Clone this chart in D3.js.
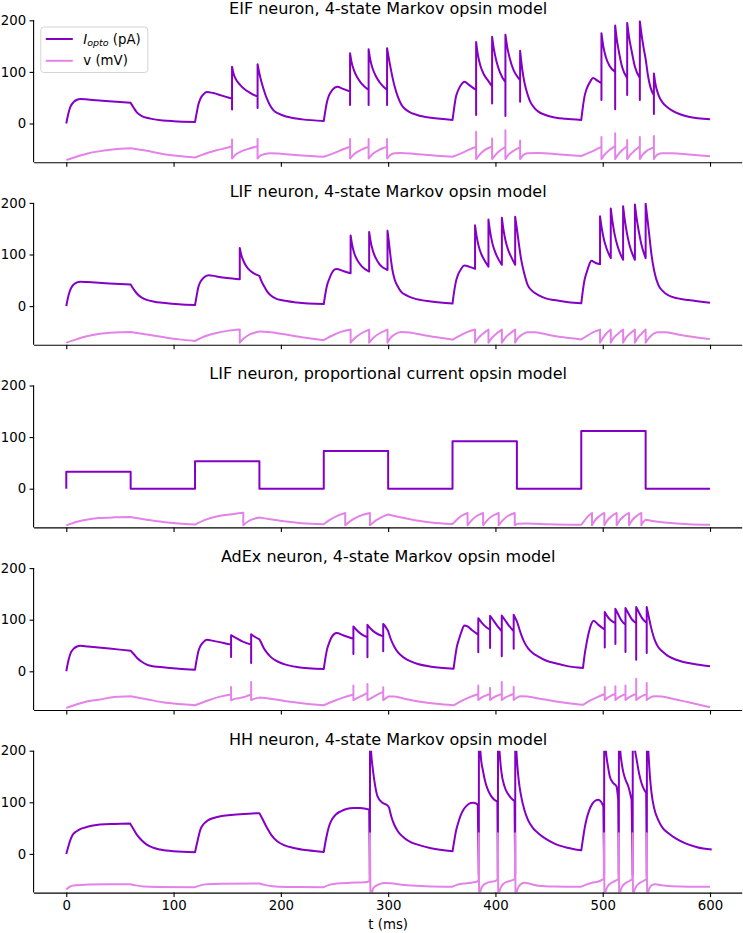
<!DOCTYPE html>
<html><head><meta charset="utf-8">
<script src="https://cdn.jsdelivr.net/npm/d3@7"></script>
<style>
html,body{margin:0;padding:0;background:#fff;}
svg{display:block;font-family:"DejaVu Sans",sans-serif;}
</style></head>
<body><svg id="chart" width="743" height="933"></svg>
<script>
// ---------- DATA (time in ms, values in pA / mV) ----------
const titles = [
  "EIF neuron, 4-state Markov opsin model",
  "LIF neuron, 4-state Markov opsin model",
  "LIF neuron, proportional current opsin model",
  "AdEx neuron, 4-state Markov opsin model",
  "HH neuron, 4-state Markov opsin model"
];
const xTicks = [0,100,200,300,400,500,600];
const yTicks = [0,100,200];
const legendLabels = ["I_opto (pA)", "v (mV)"];

// each series: list of smooth pieces; pieces are joined by straight (vertical) lines
const eifIopto = [
 [[0,0],[2,20],[4,33],[7,42],[10,46],[13,47.5],[20,46.5],[40,43],[60,40]],
 [[60,40],[63,30],[66,21],[70,15],[75,11],[81,8.5],[90,6],[100,4.5],[120,3]],
 [[120,3],[121.5,20],[123,36],[125,48],[128,57],[131,61],[137,59],[145,54],[154.5,48]],
 [[154.5,27]],
 [[154.5,110],[156,96],[158,86],[162,75],[166,67],[171,60],[178.3,52]],
 [[178.3,30]],
 [[178.3,115],[180,97],[182,80],[184,66],[187,48],[190,35],[193,26],[198,19],[206,13],[220,8],[240,5]],
 [[240,5],[241.5,25],[243,42],[245,55],[248,65],[252.7,71],[258,67],[264.5,62]],
 [[264.5,36]],
 [[264.5,136],[266,118],[268,104],[271,90],[275,78],[281.8,65]],
 [[281.8,36]],
 [[281.8,144],[283.3,124],[285.3,108],[288,94],[292,80],[299,65]],
 [[299,36]],
 [[299,146],[300.5,128],[303,100],[306,72],[309,52],[312,38],[315,29.5],[320,22],[327,16.5],[340,11],[360,7]],
 [[360,7],[361.5,30],[363,50],[365,63],[368,75],[371,81],[376,74],[382,65]],
 [[382,16.5]],
 [[382,158],[383.5,135],[386,112],[389,96],[392.5,85],[396.9,72]],
 [[396.9,39]],
 [[396.9,168],[398.5,145],[401,120],[404,100],[409.3,80]],
 [[409.3,14.5]],
 [[409.3,172],[411,148],[413.5,125],[417,103],[420,92],[423,84]],
 [[423,42]],
 [[423,141],[425,105],[427,80],[430,56],[433,40],[436,31],[440,23],[446,17],[452,13],[465,9],[480,7]],
 [[480,7],[481.5,32],[483,52],[485,67],[488,80],[491,88],[495,83],[498.8,78]],
 [[498.8,45.6]],
 [[498.8,175],[500.5,150],[503,128],[506,113],[511.6,100]],
 [[511.6,27.5]],
 [[511.6,190],[513,165],[515,140],[518,110],[522.8,88]],
 [[522.8,55]],
 [[522.8,195],[524.5,168],[527,140],[530,110],[534.6,88]],
 [[534.6,45.6]],
 [[534.6,198],[536,175],[538,148],[540,125],[542,95],[544.5,70],[547.7,55]],
 [[547.7,18.5]],
 [[547.7,97],[549,78],[552,55],[556,40],[560,32],[564,26],[572,18],[580,13],[600,8]]
];
const eifV = [
 [[0,-71],[10,-64],[20,-58],[30,-54],[45,-50],[60,-48]],
 [[60,-48],[75,-53],[90,-59],[105,-63],[120,-66]],
 [[120,-66],[130,-58],[140,-52],[148,-48],[154.5,-44]],
 [[154.5,-31]],
 [[154.5,-68],[158,-60],[163,-54],[170,-49],[178.3,-44]],
 [[178.3,-30]],
 [[178.3,-68],[181,-62],[185,-59],[190,-57.5],[200,-58.5],[220,-62],[240,-64.5]],
 [[240,-64.5],[250,-57],[258,-50],[264.5,-45]],
 [[264.5,-30]],
 [[264.5,-68],[268,-60],[273,-53],[278,-48],[281.8,-45]],
 [[281.8,-30]],
 [[281.8,-68],[285,-60],[290,-53],[295,-48],[299,-45]],
 [[299,-30]],
 [[299,-68],[302,-61],[306,-57.5],[312,-57],[325,-59],[345,-62.5],[360,-64.5]],
 [[360,-64.5],[368,-58],[376,-50],[382,-45]],
 [[382,-16]],
 [[382,-69],[385,-61],[389,-53],[393,-48],[396.9,-45]],
 [[396.9,-29]],
 [[396.9,-69],[400,-61],[404,-53],[409.3,-45]],
 [[409.3,-13]],
 [[409.3,-69],[412,-61],[416,-54],[420,-49],[423,-46]],
 [[423,-33]],
 [[423,-69],[426,-61],[430,-57.5],[440,-57],[460,-60],[480,-63]],
 [[480,-63],[488,-56],[494,-50],[498.8,-45]],
 [[498.8,-26]],
 [[498.8,-69],[502,-60],[506,-52],[511.6,-44]],
 [[511.6,-19]],
 [[511.6,-69],[514.5,-60],[518,-52],[522.8,-44]],
 [[522.8,-32]],
 [[522.8,-69],[526,-60],[530,-52],[534.6,-44]],
 [[534.6,-26]],
 [[534.6,-69],[537.5,-60],[541,-53],[544.5,-49],[547.7,-46]],
 [[547.7,-24]],
 [[547.7,-69],[550.5,-61],[555,-57.5],[565,-57.5],[580,-60],[600,-63.5]]
];

const lifIopto = [
 [[0,0],[2,20],[4,33],[7,42],[10,46],[13,47.4],[20,46.5],[40,44],[60,42]],
 [[60,42],[63,32],[66,24],[70,17],[75,12],[82,8.5],[90,6.5],[105,3.5],[120,2]],
 [[120,2],[121.5,20],[123,36],[125,47],[128,55],[132.7,60],[140,57.5],[150,54.5],[161.7,52]],
 [[161.7,112.5],[163,100],[165.5,86],[168.5,75],[172,67.5],[176,62],[180,58.5]],
 [[180,58.5],[182,48],[184.5,38],[187,29],[191,20],[196,14],[200,11.7],[215,7],[240,4]],
 [[240,4],[241.5,24],[243,40],[245,52],[247,62],[249.5,70],[252,72],[258,68],[265,63.7]],
 [[265,137],[266.5,118],[268.5,102],[271,90],[275,78],[282.3,67]],
 [[282.3,143.7],[283.8,124],[285.8,107],[288.5,93],[292,81],[299.4,70]],
 [[299.4,146],[300.5,128],[302,100],[304,70],[306,52],[309,38],[312,28],[318,20],[324,15],[340,9],[360,5]],
 [[360,5],[361.5,28],[363,46],[365,60],[368,72],[371,78.5],[376,76],[381,72]],
 [[381,156.5],[382.5,135],[384.5,115],[387,100],[390,88],[393.5,76.6]],
 [[393.5,167.6],[395,145],[397,123],[399.5,106],[402.5,92],[406,80]],
 [[406,171],[407.5,148],[409.5,126],[412,108],[415,94],[418.4,80]],
 [[418.4,173],[420,150],[422,118],[424,90],[427,62],[430,41],[434,30],[440,21.4],[447,15],[455,11.7],[468,7.5],[480,5.3]],
 [[480,5.3],[481.5,30],[483,50],[485,65],[487,78],[489.4,87.7],[493,84],[497.5,81]],
 [[497.5,174],[499,152],[501,130],[503.5,112],[507.5,93]],
 [[507.5,189],[509,165],[511,140],[514,115],[519,89.7]],
 [[519,193.6],[520.5,168],[522.5,142],[525,118],[530,89.7]],
 [[530,197],[531.5,172],[533.5,146],[536,120],[540,93]],
 [[540,198.5],[541.5,172],[543,145],[545.5,99],[548,68],[551.8,41],[556,29],[561,21],[570,15],[580,11.7],[600,6.5]]
];
const lifV = [
 [[0,-70.8],[10,-64],[20,-58],[30,-54],[45,-51],[60,-50]],
 [[60,-50],[75,-55],[90,-60],[105,-64.5],[120,-67.5]],
 [[120,-67.5],[130,-58],[140,-52],[150,-48],[161.7,-45.5]],
 [[161.7,-70.8],[166,-62],[171,-55],[176,-51],[181,-49],[190,-50.5],[210,-57],[225,-62],[240,-66]],
 [[240,-66],[248,-57],[256,-50],[265,-45.5]],
 [[265,-70.8],[269,-62],[274,-54],[282.3,-45.5]],
 [[282.3,-70.8],[286,-62],[291,-54],[299.4,-45.5]],
 [[299.4,-70.8],[302,-62],[306,-55],[312,-50],[320,-51],[335,-57],[350,-62],[360,-65]],
 [[360,-65],[366,-58],[373,-51],[381,-45.5]],
 [[381,-70.8],[384,-62],[388,-54],[393.5,-45.5]],
 [[393.5,-70.8],[396.5,-62],[400.5,-54],[406,-45.5]],
 [[406,-70.8],[409,-62],[413,-54],[418.4,-45.5]],
 [[418.4,-70.8],[421,-62],[425,-55],[430,-50.5],[437,-50.5],[450,-56],[465,-61],[480,-64.5]],
 [[480,-64.5],[485,-58],[491,-51],[497.5,-45.5]],
 [[497.5,-70.8],[500,-62],[503,-54],[507.5,-45.5]],
 [[507.5,-70.8],[510,-62],[514,-54],[519,-45.5]],
 [[519,-70.8],[521.5,-62],[525,-54],[530,-45.5]],
 [[530,-70.8],[532.5,-62],[536,-54],[540,-45.5]],
 [[540,-70.8],[543,-62],[547,-54],[551,-50.5],[558,-50.5],[570,-55],[585,-60],[600,-64]]
];

const propIopto = [
 [[0,0]],[[0,33],[60,33]],[[60,0],[120,0]],
 [[120,53],[180,53]],[[180,0],[240,0]],
 [[240,73],[300,73]],[[300,0],[360,0]],
 [[360,92],[420,92]],[[420,0],[480,0]],
 [[480,112],[540,112]],[[540,0],[600,0]]
];
const propV = [
 [[0,-71],[10,-64],[20,-59.5],[30,-57],[45,-55.5],[60,-55]],
 [[60,-55],[75,-60],[90,-64.5],[105,-67.5],[120,-69.5]],
 [[120,-69.5],[130,-60],[140,-54],[150,-50.5],[165,-46.5]],
 [[165,-71],[169,-64],[174,-59],[180,-56]],
 [[180,-56],[190,-59],[205,-63.5],[220,-67],[240,-69]],
 [[240,-69],[246,-60],[252,-53],[260,-47]],
 [[260,-71],[266,-61],[273,-53],[283,-47]],
 [[283,-71],[289,-61],[295,-54],[300,-50]],
 [[300,-50],[310,-55],[325,-61],[340,-65.5],[360,-68.5]],
 [[360,-68.5],[364,-60],[368,-53],[374,-47]],
 [[374,-71],[378,-61],[382.5,-53],[388.5,-47]],
 [[388.5,-71],[392.5,-61],[397,-53],[403,-47]],
 [[403,-71],[407,-61],[411.5,-53],[418,-47]],
 [[418,-71],[421,-68],[428,-67.5],[450,-69],[480,-70]],
 [[480,-70],[483,-62],[486,-54],[490,-47]],
 [[490,-71],[493,-61],[497,-53],[501.5,-47]],
 [[501.5,-71],[504.5,-61],[508.5,-53],[513,-47]],
 [[513,-71],[516,-61],[520,-53],[524.5,-47]],
 [[524.5,-71],[527.5,-61],[531.5,-53],[536,-47]],
 [[536,-71],[538,-64],[540,-60]],
 [[540,-60],[545,-62],[560,-66],[580,-69],[600,-70]]
];

const adexIopto = [
 [[0,0],[2,21],[4,35],[7,44],[10,48],[13,49.5],[20,48],[40,44],[60,40]],
 [[60,40],[63,33],[66,25.8],[70,19],[75,13],[82,9.5],[90.6,7.7],[105,5],[120,3.2]],
 [[120,3.2],[121.5,22],[123,38],[125,49],[128,57],[131,61],[138,58.5],[146.7,55],[153.6,51.6]],
 [[153.6,27.7]],
 [[153.6,70],[158,65],[164,58],[172.3,51.6]],
 [[172.3,16]],
 [[172.3,72],[176,66.5],[180,62]],
 [[180,62],[182,54],[184,45],[187,36],[190,29],[195,21],[203,14],[215,8.5],[240,4.5]],
 [[240,4.5],[241.5,25],[243,42],[245,55],[247,65],[249.6,72],[252,74],[258,70],[267.6,63]],
 [[267.6,33.5]],
 [[267.6,87],[271,79],[275,72],[280.7,66]],
 [[280.7,27]],
 [[280.7,90],[284,82],[288,75],[295.4,67.7]],
 [[295.4,38.7]],
 [[295.4,91.6],[297,88],[300,78]],
 [[300,78],[302,65],[305.6,48],[309,37],[315,26],[320,20],[327.6,14],[340,9],[361,5]],
 [[361,5],[362.5,28],[364,47],[366,62],[368.5,78],[371,89],[374,87],[378,80],[384,71]],
 [[384,36.8]],
 [[384,103],[387,95],[390,88],[395,80.6]],
 [[395,45]],
 [[395,107.7],[398,99],[401,90],[405.9,77.4]],
 [[405.9,29]],
 [[405.9,108],[409,99],[412,90],[417,77.4]],
 [[417,43.9]],
 [[417,109.7],[419,101],[420,97]],
 [[420,97],[422,84],[424,71],[427,56],[430.3,45],[435,35],[439.6,29],[447,21],[455,16],[467,10],[481.6,6.5]],
 [[481.6,6.5],[483,30],[485,55],[487,75],[489.4,92],[491.5,98],[496,90],[501.9,80.6]],
 [[501.9,46]],
 [[501.9,115],[504.5,106],[507.5,99],[511.8,93.5]],
 [[511.8,53]],
 [[511.8,121],[514.5,110],[517,100],[521.2,90]],
 [[521.2,37.4]],
 [[521.2,122.6],[524,112],[527,101],[531.2,93.5]],
 [[531.2,22.6]],
 [[531.2,124.5],[534,113],[537,102],[541,93.5]],
 [[541,35.5]],
 [[541,124.5],[543,105],[544.5,90],[547,70],[549,58],[552,46],[555.4,38.7],[560,31],[564.5,25.8],[572,20],[580,16],[590,12.5],[600,9.7]]
];
const adexV = [
 [[0,-71],[10,-64],[20,-58],[30,-55],[45,-50],[60,-48.4]],
 [[60,-48.4],[75,-54],[90,-60],[105,-63.5],[120,-65.8]],
 [[120,-65.8],[130,-58],[140,-51],[153.6,-45]],
 [[153.6,-30.3]],
 [[153.6,-56],[158,-53],[162,-51.5],[167,-49],[172.3,-45]],
 [[172.3,-20.6]],
 [[172.3,-56],[176,-53],[180,-51]],
 [[180,-51],[190,-53],[205,-58],[220,-62],[240,-65.8]],
 [[240,-65.8],[250,-57],[258,-51],[267.6,-45]],
 [[267.6,-27.7]],
 [[267.6,-56],[272,-51],[276,-47],[280.7,-42]],
 [[280.7,-24.5]],
 [[280.7,-56],[285,-51],[290,-45],[295.4,-40]],
 [[295.4,-31]],
 [[295.4,-56],[298,-52],[300,-49]],
 [[300,-49],[305,-49],[315,-53],[330,-59],[345,-63],[361,-66]],
 [[361,-66],[368,-58],[375,-51],[384,-44]],
 [[384,-27.7]],
 [[384,-55.5],[387,-51],[391,-47],[395,-44]],
 [[395,-32]],
 [[395,-55.5],[398,-51],[402,-47],[405.9,-44]],
 [[405.9,-20.6]],
 [[405.9,-55.5],[409,-51],[413,-47],[417,-44]],
 [[417,-30.3]],
 [[417,-55.5],[420,-51],[424,-48.5],[430,-49],[440,-52.5],[455,-58],[470,-62.5],[481.6,-65]],
 [[481.6,-65],[488,-57],[495,-50],[501.9,-44]],
 [[501.9,-30.3]],
 [[501.9,-55.5],[504.5,-51],[508,-47],[511.8,-44]],
 [[511.8,-29]],
 [[511.8,-55.5],[514.5,-51],[518,-47],[521.2,-44]],
 [[521.2,-27.7]],
 [[521.2,-55.5],[524,-51],[527.5,-47],[531.2,-44]],
 [[531.2,-14.2]],
 [[531.2,-55.5],[534,-51],[537.5,-47],[541,-44]],
 [[541,-22.6]],
 [[541,-55.5],[544,-51],[549,-48.5],[555,-49],[565,-53],[580,-60],[600,-69.5]]
];

const hhIopto = [
 [[0,0],[2,15],[4,28],[6,37],[9.7,44],[14,49],[19,52],[25,55],[31.5,56.8],[45,58],[59.5,58.7]],
 [[59.5,58.7],[62,50],[65.7,37.4],[70,27],[75,18],[81,12],[87.5,8.4],[100,5],[120,3.2]],
 [[120,3.2],[122,22],[125,47],[128,58],[132,65],[137.4,69.7],[145,73.5],[156,76],[170,78],[180,79]],
 [[180,79],[183,67],[187.2,50],[191,37],[196.6,24.5],[203,17],[212,11.6],[225,7],[240,3.9]],
 [[240,3.9],[242,28],[244.9,53.5],[248,68],[251.5,77],[255.8,82.6],[261,87],[268,89],[274,89],[278,88],[282.3,86]],
 [[283,-40]],
 [[283.1,240],[284.2,195],[285.5,168],[287,144],[290,112],[294.7,99],[299.4,94],[301,89]],
 [[301,89],[303,72],[305.6,57],[309,44],[315,31],[321,23],[327.4,18],[340,11],[360,5]],
 [[360,5],[361.5,24],[363,42],[365,58],[367.5,74],[370,85],[373,93],[377,98.5],[380,99],[383.5,95.5]],
 [[384.5,-40]],
 [[384.6,250],[385.5,215],[386.5,185],[388.2,163],[390.5,140],[392.9,124.5],[396,112],[399,105],[401.8,102]],
 [[402.3,-40]],
 [[402.4,250],[403.3,215],[404.3,185],[405.3,163],[408.4,131],[411.5,117],[414.7,108],[417.8,102]],
 [[418.4,-40]],
 [[418.5,250],[419.4,205],[421,157],[422.5,130],[424,111.6],[427,85],[430.3,66],[435,50],[439.6,40.6],[447,29],[455,20],[467,12],[480,7]],
 [[480,7],[481.5,28],[483,48],[485,68],[487.5,85],[490,96],[493,103],[496,105],[498.5,101],[500.6,92]],
 [[501.3,-40]],
 [[501.4,250],[502.3,215],[503.5,189],[505,168],[506.6,150],[509.5,138],[512.8,131],[514.4,105]],
 [[515,-40]],
 [[515.1,250],[516,210],[518.1,170],[521,145],[523.8,131],[526.9,105]],
 [[527.9,-40]],
 [[528,250],[529,220],[531.6,183],[534,155],[536.2,137],[538.5,125],[540.5,118]],
 [[541.1,-40]],
 [[541.2,250],[542.5,200],[544,150],[545.5,118],[548,88],[551.7,66],[556,50],[561,40.6],[568,30],[576.6,21],[588,13],[601.6,8.4]]
];
const hhV = [
 [[0,-69],[3,-64],[6,-61.5],[9.7,-60.6],[20,-59.5],[40,-58.7],[59.5,-58.7]],
 [[59.5,-58.7],[65,-61],[72,-63],[85,-64],[120,-64.5]],
 [[120,-64.5],[125,-61],[131,-59],[145,-58],[180,-57.4]],
 [[180,-57.4],[186,-60.5],[192,-62.6],[205,-64],[240,-64.5]],
 [[240,-64.5],[245,-60],[252,-57.5],[265,-56],[278,-55],[282.6,-53]],
 [[283,40]],
 [[283.5,-82],[284.8,-76],[286,-67],[288.5,-62],[292,-58.5],[296.3,-56.5],[302,-57],[315,-60.5],[335,-62.5],[360,-63.5]],
 [[360,-63.5],[364,-60],[370,-57.5],[377.3,-56],[383.5,-53],[384.3,-51]],
 [[384.5,40]],
 [[384.8,-82],[386,-72],[387.5,-64],[391.3,-57],[396,-54],[400.6,-51.6],[401.9,-50]],
 [[402.3,40]],
 [[402.6,-82],[403.8,-72],[405.3,-64],[408,-57],[412,-53.5],[417.2,-50],[418.1,-49]],
 [[418.4,40]],
 [[418.7,-82],[420,-72],[421.5,-64],[424,-58],[427,-56],[433,-58.5],[440,-61.5],[455,-63],[480,-63.5]],
 [[480,-63.5],[484,-60],[490,-56],[496,-53.5],[498.7,-51],[501,-49]],
 [[501.3,40]],
 [[501.6,-82],[502.8,-72],[504.3,-64],[507.5,-57],[511,-53],[514.7,-49]],
 [[515,40]],
 [[515.3,-82],[516.5,-72],[518,-64],[521,-57],[524.5,-53],[527.6,-49]],
 [[527.9,40]],
 [[528.2,-82],[529.4,-72],[531,-64],[534,-57],[537.5,-53],[540.8,-49]],
 [[541.1,40]],
 [[541.4,-82],[542.6,-72],[544.2,-64],[546.5,-60],[548.6,-59],[556,-61],[564,-62.6],[580,-63.5],[600,-63.5]]
];

const panels = [
  {iopto: eifIopto, v: eifV},
  {iopto: lifIopto, v: lifV},
  {iopto: propIopto, v: propV},
  {iopto: adexIopto, v: adexV},
  {iopto: hhIopto, v: hhV}
];

// ---------- LAYOUT ----------
const left = 34.1, right = 742.2;
const panelTop0 = 20.3, panelStep = 182.6, panelH = 141.9;
const colI = "#8400c4", colV = "#e383e8";
const svg = d3.select("#chart");
const x = d3.scaleLinear().domain([-30, 630]).range([left, right]);

function buildPath(segs, y) {
  const line = d3.line().x(d => x(d[0])).y(d => y(d[1])).curve(d3.curveMonotoneX);
  let s = "";
  segs.forEach((seg, i) => {
    let p = seg.length === 1 ? `M${x(seg[0][0])},${y(seg[0][1])}` : line(seg);
    if (i > 0) p = "L" + p.slice(1);
    s += p;
  });
  return s;
}

panels.forEach((pn, k) => {
  const top = panelTop0 + k * panelStep, bottom = top + panelH;
  const y = d3.scaleLinear().domain([-75, 200]).range([bottom, top]);
  const g = svg.append("g");

  g.append("clipPath").attr("id", "clip" + k).append("rect")
    .attr("x", left).attr("y", top).attr("width", right - left).attr("height", panelH);

  const lines = g.append("g").attr("clip-path", `url(#clip${k})`);
  lines.append("path").attr("d", buildPath(pn.iopto, y))
    .attr("fill", "none").attr("stroke", colI).attr("stroke-width", 2)
    .attr("stroke-linejoin", "round");
  lines.append("path").attr("d", buildPath(pn.v, y))
    .attr("fill", "none").attr("stroke", colV).attr("stroke-width", 2)
    .attr("stroke-linejoin", "round");

  const xa = d3.axisBottom(x).tickValues(xTicks).tickSize(4.5).tickPadding(3.5)
    .tickFormat(k === 4 ? d3.format("d") : () => "");
  const gx = g.append("g").attr("transform", `translate(0,${bottom})`).call(xa);
  const ya = d3.axisLeft(y).tickValues(yTicks).tickSize(4.5).tickPadding(3.5).tickFormat(d3.format("d"));
  const gy = g.append("g").attr("transform", `translate(${left},0)`).call(ya);
  [gx, gy].forEach(a => {
    a.select(".domain").attr("stroke", "#000").attr("stroke-width", 1.1).attr("d",
      a === gx ? `M${left},0.5H${right}` : `M-0.5,${top}V${bottom}`);
    a.selectAll(".tick line").attr("stroke", "#000").attr("stroke-width", 1.1);
    a.selectAll(".tick text").attr("fill", "#000").style("font-size", "13.3px")
      .style("font-family", "DejaVu Sans");
  });

  g.append("text").attr("x", (left + right) / 2).attr("y", top - 6.2)
    .attr("text-anchor", "middle").style("font-size", "16px").attr("fill", "#000")
    .text(titles[k]);

  if (k === 0) {
    const lg = g.append("g").attr("transform", `translate(${left + 6.7},${top + 6.7})`);
    lg.append("rect").attr("width", 107).attr("height", 45.5).attr("rx", 3)
      .attr("fill", "#fff").attr("fill-opacity", 0.8).attr("stroke", "#d4d4d4").attr("stroke-width", 1);
    lg.append("line").attr("x1", 5).attr("x2", 32).attr("y1", 12).attr("y2", 12)
      .attr("stroke", colI).attr("stroke-width", 2);
    lg.append("line").attr("x1", 5).attr("x2", 32).attr("y1", 33.8).attr("y2", 33.8)
      .attr("stroke", colV).attr("stroke-width", 2);
    const t1 = lg.append("text").attr("x", 42.5).attr("y", 16.5).style("font-size", "13.3px").attr("fill", "#000");
    t1.append("tspan").style("font-style", "italic").text(legendLabels[0].split("_")[0]);
    t1.append("tspan").style("font-style", "italic").style("font-size", "9.5px").attr("dy", 2.5)
      .text(legendLabels[0].split("_")[1].split(" ")[0]);
    t1.append("tspan").attr("dy", -2.5).text(" " + legendLabels[0].split(" ").slice(1).join(" "));
    lg.append("text").attr("x", 42.5).attr("y", 38.3).style("font-size", "13.3px").attr("fill", "#000")
      .text(legendLabels[1]);
  }
});

svg.append("text").attr("x", (left + right) / 2).attr("y", 928.5).attr("text-anchor", "middle")
  .style("font-size", "13.3px").attr("fill", "#000").text("t (ms)");
</script>
</body></html>
